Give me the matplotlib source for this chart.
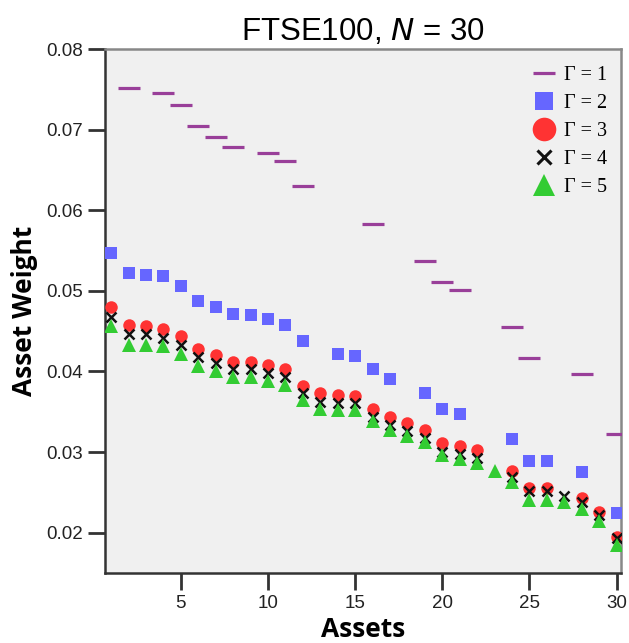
import numpy as np
import matplotlib
matplotlib.use("Agg")
import matplotlib.pyplot as plt
from matplotlib.lines import Line2D

# ---- data ----
assets_g1 = [2, 4, 5, 6, 7, 8, 10, 11, 12, 16, 19, 20, 21, 24, 25, 28, 30]
weights_g1 = [0.0752, 0.0746, 0.0731, 0.0704, 0.0691, 0.0679, 0.0671, 0.0661, 0.0630,
              0.0583, 0.0537, 0.0511, 0.0501, 0.0455, 0.0417, 0.0397, 0.0322]

assets_g2 = [1, 2, 3, 4, 5, 6, 7, 8, 9, 10, 11, 12, 14, 15, 16, 17, 19, 20, 21, 24, 25, 26, 28, 30]
weights_g2 = [0.0547, 0.0522, 0.0520, 0.0518, 0.0506, 0.0488, 0.0480, 0.0471, 0.0470, 0.0465,
              0.0458, 0.0438, 0.0422, 0.0419, 0.0403, 0.0391, 0.0373, 0.0354, 0.0347, 0.0316,
              0.0289, 0.0289, 0.0275, 0.0224]

assets_g3 = list(range(1, 23)) + [24, 25, 26, 28, 29, 30]
weights_g3 = [0.0480, 0.0458, 0.0456, 0.0453, 0.0444, 0.0428, 0.0420, 0.0412, 0.0412, 0.0408,
              0.0403, 0.0382, 0.0373, 0.0371, 0.0369, 0.0354, 0.0344, 0.0336, 0.0327, 0.0311,
              0.0307, 0.0303, 0.0277, 0.0255, 0.0255, 0.0243, 0.0226, 0.0195]

assets_g4 = list(range(1, 23)) + [24, 25, 26, 27, 28, 29, 30]
weights_g4 = [0.0468, 0.0446, 0.0446, 0.0442, 0.0433, 0.0418, 0.0410, 0.0403, 0.0403, 0.0398,
              0.0393, 0.0373, 0.0362, 0.0361, 0.0361, 0.0344, 0.0333, 0.0326, 0.0318, 0.0300,
              0.0298, 0.0293, 0.0269, 0.0252, 0.0252, 0.0245, 0.0238, 0.0222, 0.0193]

assets_g5 = list(range(1, 31))
weights_g5 = [0.0456, 0.0433, 0.0433, 0.0432, 0.0422, 0.0407, 0.0400, 0.0393, 0.0393, 0.0388,
              0.0383, 0.0365, 0.0354, 0.0352, 0.0352, 0.0338, 0.0327, 0.0320, 0.0312, 0.0296,
              0.0291, 0.0286, 0.0276, 0.0263, 0.0240, 0.0240, 0.0238, 0.0230, 0.0214, 0.0185]

legend_labels = ["Γ = 1", "Γ = 2", "Γ = 3", "Γ = 4", "Γ = 5"]
x_ticks = [5, 10, 15, 20, 25, 30]
y_ticks = [0.02, 0.03, 0.04, 0.05, 0.06, 0.07, 0.08]

# ---- figure ----
fig = plt.figure(figsize=(6.29, 6.43), dpi=100)
ax = fig.add_axes([105 / 629, 1 - 573 / 643, (621 - 105) / 629, (573 - 49) / 643])
ax.set_facecolor("#f0f0f0")

c1, c2, c3, c4, c5 = "#993f99", "#6666ff", "#ff3333", "#111111", "#33cc33"

ax.plot(assets_g1, weights_g1, ls="none", marker="_", ms=15.5, mew=2.3, color=c1, zorder=3)
ax.plot(assets_g2, weights_g2, ls="none", marker="s", ms=9, mew=0, color=c2, zorder=3)
ax.plot(assets_g3, weights_g3, ls="none", marker="o", ms=9, mew=0, color=c3, zorder=3)
ax.plot(assets_g4, weights_g4, ls="none", marker="x", ms=7, mew=1.8, color=c4, zorder=4)
ax.plot(assets_g5, weights_g5, ls="none", marker="^", ms=9.5, mew=0, color=c5, zorder=5)

ax.set_xlim(0.65, 30.25)
ax.set_ylim(0.015, 0.08)
ax.set_xticks(x_ticks)
ax.set_yticks(y_ticks)
ax.set_xticklabels([str(t) for t in x_ticks], family="Liberation Sans", fontsize=13.5, color="#222222")
ax.set_yticklabels([f"{t:.2f}" for t in y_ticks], family="Liberation Sans", fontsize=13.5, color="#222222")
ax.tick_params(axis="both", direction="out", length=12, width=2, color="#333333", pad=4)

for s in ["left", "bottom"]:
    ax.spines[s].set_color("#333333")
    ax.spines[s].set_linewidth(1.8)
for s in ["top", "right"]:
    ax.spines[s].set_color("#888888")
    ax.spines[s].set_linewidth(1.8)

ax.set_xlabel("Assets", family="Open Sans", fontweight="bold", fontsize=19, labelpad=3)
ax.set_ylabel("Asset Weight", family="Open Sans", fontweight="bold", fontsize=19, labelpad=6)

fig.text(0.5 * (105 + 621) / 629, 1 - 40 / 643, r"FTSE100, $\mathit{N}$ = 30",
         ha="center", va="baseline", family="Liberation Sans", fontsize=22.5)

handles = [
    Line2D([], [], ls="none", marker="_", ms=16, mew=2.3, color=c1),
    Line2D([], [], ls="none", marker="s", ms=13, mew=0, color=c2),
    Line2D([], [], ls="none", marker="o", ms=17, mew=0, color=c3),
    Line2D([], [], ls="none", marker="x", ms=10, mew=2.2, color=c4),
    Line2D([], [], ls="none", marker="^", ms=16, mew=0, color=c5),
]
leg = ax.legend(handles, legend_labels, loc="upper right", frameon=False,
                prop={"family": "Liberation Serif", "size": 14.5},
                handlelength=1.2, handletextpad=0.4, labelspacing=0.45,
                borderaxespad=0.3, bbox_to_anchor=(1.0, 0.995))

fig.savefig("out.png", dpi=100, facecolor="white")
